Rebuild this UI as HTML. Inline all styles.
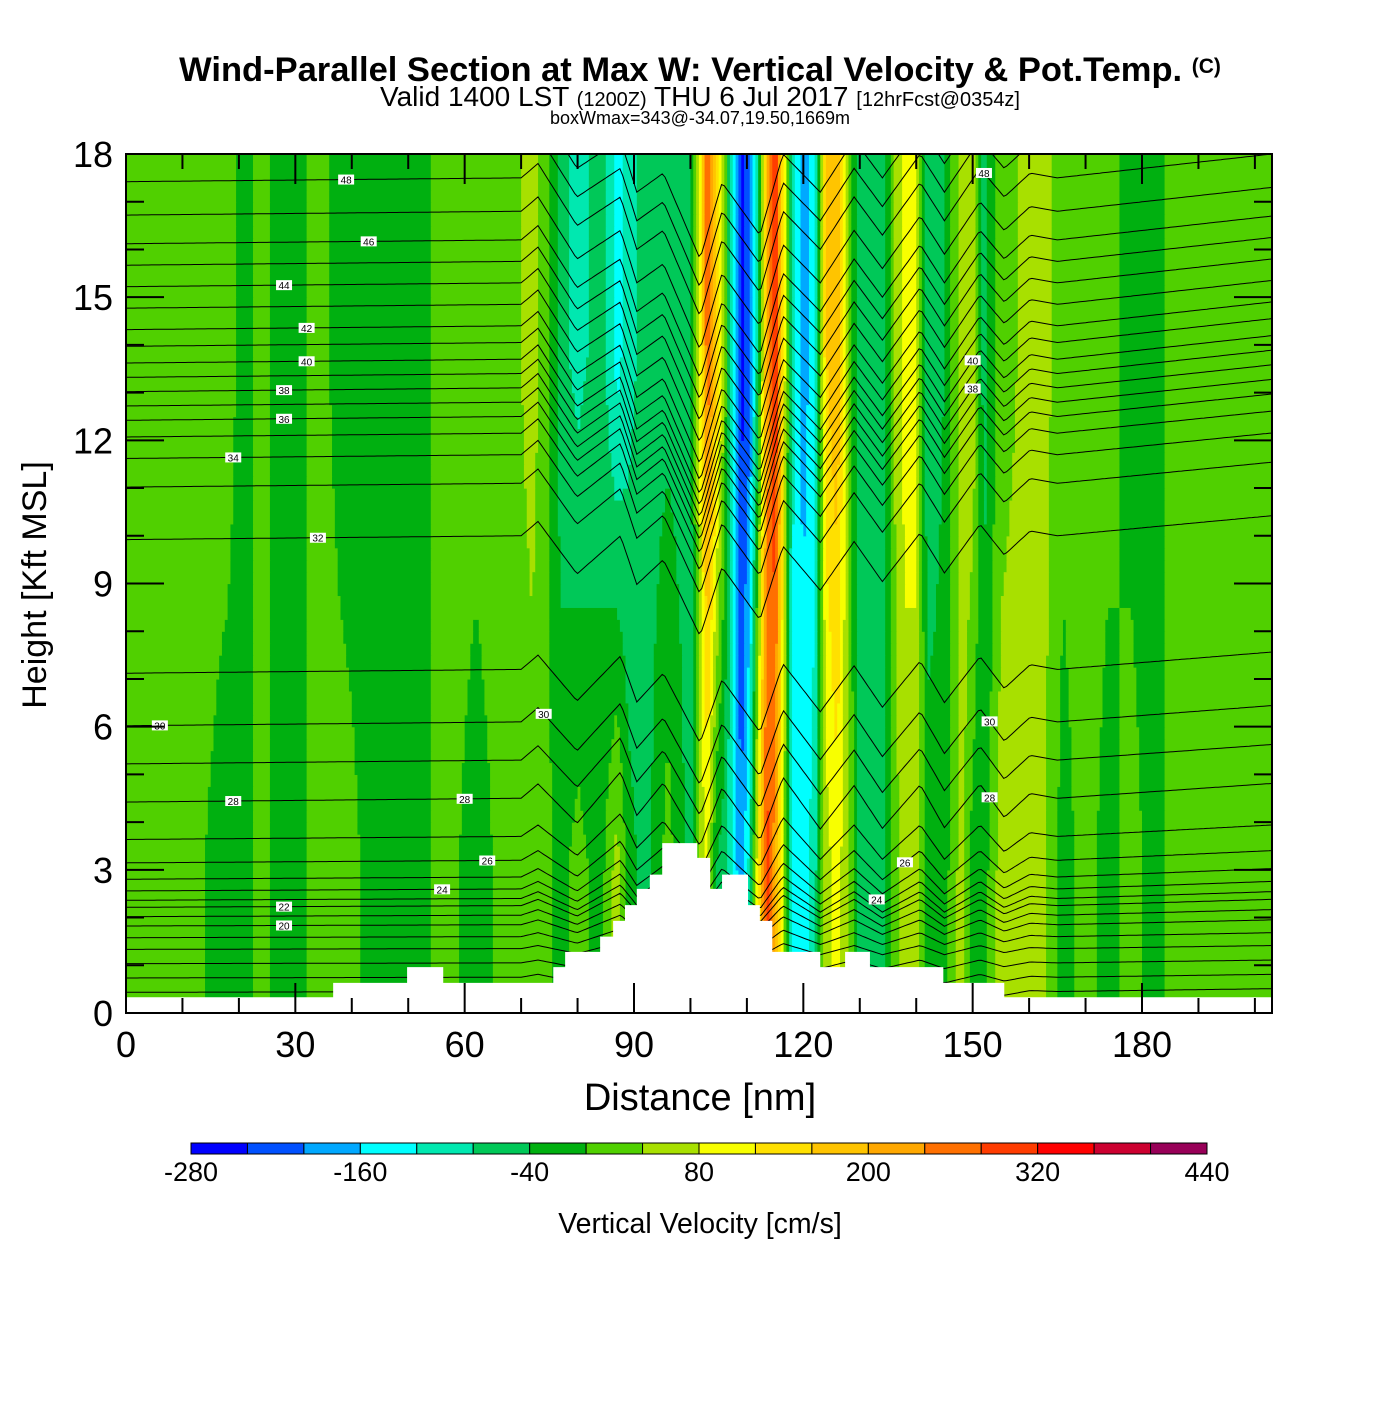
<!DOCTYPE html>
<html><head><meta charset="utf-8"><style>
body{margin:0;background:#fff;width:1400px;height:1400px;overflow:hidden}
svg text{font-family:"Liberation Sans",sans-serif}
</style></head><body>
<svg id="s" width="1400" height="1400" viewBox="0 0 1400 1400" xmlns="http://www.w3.org/2000/svg">
<defs><clipPath id="pc"><rect x="126" y="154" width="1146" height="859"/></clipPath></defs>
<text x="700" y="81" text-anchor="middle" font-size="34.5" font-weight="bold">Wind-Parallel Section at Max W: Vertical Velocity &amp; Pot.Temp. <tspan font-size="21" dy="-8">(C)</tspan></text>
<text x="700" y="106" text-anchor="middle" font-size="28">Valid 1400 LST <tspan font-size="20">(1200Z)</tspan> THU 6 Jul 2017 <tspan font-size="20">[12hrFcst@0354z]</tspan></text>
<text x="700" y="124" text-anchor="middle" font-size="18">boxWmax=343@-34.07,19.50,1669m</text>
<g clip-path="url(#pc)">
<g id="field"></g>
<g id="isen"></g>
<g id="terrain"></g>
<g id="labels"></g>
</g>
<g id="axes"></g>
<g id="cbar"></g>
<text x="700" y="1110" text-anchor="middle" font-size="38">Distance [nm]</text>
<text transform="translate(46,585) rotate(-90)" text-anchor="middle" font-size="34">Height [Kft MSL]</text>
<text x="700" y="1233" text-anchor="middle" font-size="28.5">Vertical Velocity [cm/s]</text>
</svg>
<script>
const profX=[0,10,18,21,24,27,30,34,38,45,52,56,62,68,72,74,77,80,84,87,89,92,96,100,102,103,104.5,106,107.5,109,110.5,112,113.5,115,116.5,118,120,122,124,126,128,130,134,136,138,140,142,145,148,150,152,155,158,162,166,170,174,178,182,186,192,198,203];
const wUpper=[20,20,20,-20,20,-20,-20,20,-20,-20,-20,20,20,20,60,20,-60,-100,-60,-140,-100,-60,-60,-60,120,280,180,40,-140,-260,-220,-60,200,340,120,-100,-180,-140,160,200,40,-80,-80,40,100,100,-80,-40,60,80,-60,20,40,60,20,20,20,-20,-20,20,20,20,20];
const wLower=[20,20,-20,-20,20,-20,-20,20,20,-20,-20,20,-20,20,20,20,-20,20,-20,60,-20,-60,20,-60,60,80,-40,-60,-120,-200,-100,120,300,220,60,-140,-140,-100,60,100,40,-60,-60,20,60,60,-20,-20,60,-20,-20,60,60,60,-20,20,-20,20,-20,20,20,20,20];
const terrX=[0,36.7,49.8,56.2,75.7,77.8,84.0,86.3,88.4,90.5,92.8,95.0,101.2,103.5,105.6,110.2,112.3,114.5,123.0,127.4,131.8,144.8,155.6,203];
const terrZ=[0.33,0.63,0.96,0.63,0.96,1.28,1.6,1.93,2.26,2.6,2.9,3.56,3.25,2.6,2.9,2.26,1.93,1.28,0.96,1.28,0.96,0.63,0.33];
const thetaVals=[14,15,16,17,18,19,20,21,22,23,24,25,26,27,28,29,30,31,32,33,34,35,36,37,38,39,40,41,42,43,44,45,46,47,48,49,50];
const thetaZ=[0.15,0.45,0.75,1.05,1.35,1.6,1.85,2.05,2.25,2.4,2.6,2.85,3.2,3.7,4.5,5.3,6.1,7.2,10.0,11.1,11.7,12.15,12.5,12.8,13.1,13.4,13.7,14.05,14.4,14.85,15.3,15.75,16.2,16.8,17.5,18.1,18.7];
const dzX=[0,70,73,79.9,87.6,90.5,95.2,101.7,105.6,112.3,116.4,123,129,134,140.7,145,151.3,155.6,160.2,165,203];
const dzAmp=[-0.08,0,0.3,-0.5,0.6,-0.3,0.4,-0.9,0.3,-0.8,0.5,-0.6,0.3,-0.6,0.3,-0.6,0.3,-0.4,0.1,0,0.3];
const dzTrend=[0,0,0,-0.5,-1,-1.2,-1.5,-2,-1.6,-1.6,-1.2,-0.9,-0.7,-0.6,-0.4,-0.3,-0.1,0,0,0,0.2];
const cbLevels=[-280,-240,-200,-160,-120,-80,-40,0,40,80,120,160,200,240,280,320,360,400,440];
const cbColors=["#0000ff","#0050ff","#00a8ff","#00ffff","#00e8b0","#00c858","#00b010","#50d000","#a8e000","#f8ff00","#ffe000","#ffc400","#ffa800","#ff7000","#ff3c00","#ff0000","#cc0030","#980058"];
const xTicks=[0,30,60,90,120,150,180];
const yTicks=[0,3,6,9,12,15,18];
const thetaLabels=[[28,20],[28,22],[19,34],[28,36],[28,38],[32,40],[32,42],[28,44],[43,46],[39,48],[6,30],[19,28],[34,32],[56,24],[64,26],[60,28],[74,30],[153,30],[153,28],[138,26],[133,24],[150,38],[150,40],[152,48]];

const NS="http://www.w3.org/2000/svg";
const X0=126,X1=1272,Y0=1013,Y1=154,XMAX=203,ZMAX=18;
const sx=v=>X0+v*(1016/180);
const sz=v=>Y0-v*(Y0-Y1)/ZMAX;
function interp(xs,ys,x){if(x<=xs[0])return ys[0];for(let i=1;i<xs.length;i++){if(x<=xs[i]){const t=(x-xs[i-1])/(xs[i]-xs[i-1]);return ys[i-1]+t*(ys[i]-ys[i-1]);}}return ys[ys.length-1];}
function colorOf(w){let i=Math.floor((w-cbLevels[0])/40);i=Math.max(0,Math.min(cbColors.length-1,i));return cbColors[i];}
function mk(tag,attrs,parent){const e=document.createElementNS(NS,tag);for(const k in attrs)e.setAttribute(k,attrs[k]);parent.appendChild(e);return e;}
function isoZ(base,x){const g1=Math.max(0.2,Math.min(1,(base-0.5)/4));const g2=Math.max(0,Math.min(1,(base-4)/10));return base+interp(dzX,dzAmp,x)*g1+interp(dzX,dzTrend,x)*g2;}

const field=document.getElementById('field');
const dxs=0.5,dzs=0.25;
for(let z=0;z<ZMAX;z+=dzs){
  const zc=z+dzs/2;const f=Math.max(0,Math.min(1,(zc-3)/11));
  let runStart=0,runCol=null;
  for(let x=0;x<=XMAX;x+=dxs){
    let col=null;
    if(x<XMAX){const xc=x+dxs/2;const w=interp(profX,wLower,xc)*(1-f)+interp(profX,wUpper,xc)*f;col=colorOf(w);}
    if(col!==runCol){
      if(runCol!==null){const r=mk('rect',{x:sx(runStart),y:sz(z+dzs),width:sx(x)-sx(runStart)+0.6,height:sz(z)-sz(z+dzs)+0.6,fill:runCol},field);
        
        }
      runStart=x;runCol=col;
    }
  }
}
const isen=document.getElementById('isen');
thetaVals.forEach(th=>{
  const base=interp(thetaVals,thetaZ,th);
  let d='';
  for(let x=0;x<=XMAX;x+=0.5){
    const z=isoZ(base,x);
    d+=(d?'L':'M')+sx(x).toFixed(1)+','+sz(z).toFixed(1);
  }
  const p=mk('path',{d:d,fill:'none',stroke:'#000','stroke-width':1},isen);
  
  
});
const terr=document.getElementById('terrain');
let td='M'+sx(0)+','+sz(0);
for(let i=0;i<terrZ.length;i++){td+='L'+sx(terrX[i])+','+sz(terrZ[i])+'L'+sx(terrX[i+1])+','+sz(terrZ[i]);}
td+='L'+sx(XMAX)+','+sz(0)+'Z';
const tp=mk('path',{d:td,fill:'#fff',stroke:'none'},terr);


const lab=document.getElementById('labels');
thetaLabels.forEach(([x,th])=>{
  const base=interp(thetaVals,thetaZ,th);
  const z=isoZ(base,x);
  const gx=mk('g',{},lab);
  
  
  mk('rect',{x:sx(x)-8,y:sz(z)-5,width:16,height:10,fill:'#fff'},gx);
  const t=mk('text',{x:sx(x),y:sz(z)+4,'text-anchor':'middle','font-size':10},gx);t.textContent=th;
});
const ax=document.getElementById('axes');
const fr=mk('rect',{x:X0,y:Y1,width:X1-X0,height:Y0-Y1,fill:'none',stroke:'#000','stroke-width':2},ax);


for(let v=0;v<=200;v+=10){
  const major=v%30===0;const L=major?30:15;const x=sx(v);
  mk('line',{x1:x,y1:Y0,x2:x,y2:Y0-L,stroke:'#000','stroke-width':2},ax);
  mk('line',{x1:x,y1:Y1,x2:x,y2:Y1+L,stroke:'#000','stroke-width':2},ax);
}
xTicks.forEach(v=>{const t=mk('text',{x:sx(v),y:1057,'text-anchor':'middle','font-size':36},ax);t.textContent=v;
  
  });
for(let v=0;v<=18;v+=1){
  const major=v%3===0;const L=major?38:18;const y=sz(v);
  mk('line',{x1:X0,y1:y,x2:X0+L,y2:y,stroke:'#000','stroke-width':2},ax);
  mk('line',{x1:X1,y1:y,x2:X1-L,y2:y,stroke:'#000','stroke-width':2},ax);
}
yTicks.forEach(v=>{const t=mk('text',{x:113,y:sz(v)+13,'text-anchor':'end','font-size':36},ax);t.textContent=v;
  
  });
const cb=document.getElementById('cbar');
const CB0=191,CB1=1207,cw=(CB1-CB0)/cbColors.length;
cbColors.forEach((c,i)=>{const r=mk('rect',{x:CB0+i*cw,y:1143,width:cw,height:11,fill:c,stroke:'#000','stroke-width':1},cb);
  
  });
cbLevels.forEach((v,i)=>{if(i%3!==0)return;const t=mk('text',{x:CB0+i*cw,y:1181,'text-anchor':'middle','font-size':27},cb);t.textContent=v;
  
  });
</script>
</body></html>
